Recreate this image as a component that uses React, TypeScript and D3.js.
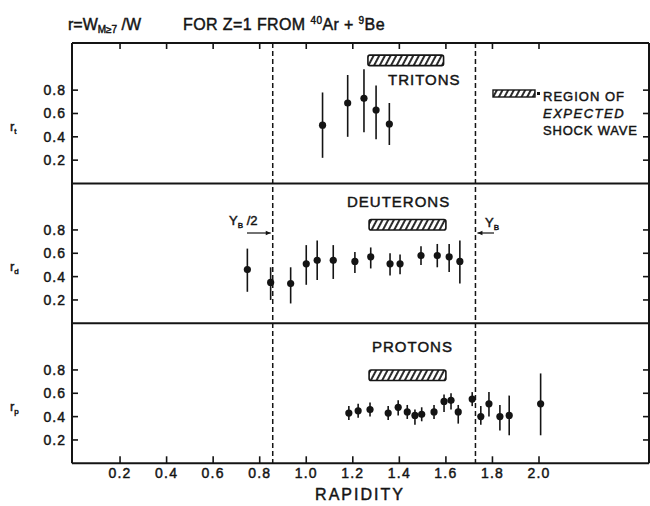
import React from "react";
import * as d3 from "d3";

// ---- data ----
const xTicks = [0.2, 0.4, 0.6, 0.8, 1.0, 1.2, 1.4, 1.6, 1.8, 2.0];
const xTickLabels = ["0.2", "0.4", "0.6", "0.8", "1.0", "1.2", "1.4", "1.6", "1.8", "2.0"];
const yTicks = [0.2, 0.4, 0.6, 0.8];
const yTickLabels = ["0.2", "0.4", "0.6", "0.8"];

const tritonRap = [1.07, 1.178, 1.248, 1.3, 1.357];
const tritonR = [0.5, 0.69, 0.73, 0.63, 0.51];
const tritonLo = [0.22, 0.4, 0.44, 0.38, 0.33];
const tritonHi = [0.78, 0.93, 0.98, 0.84, 0.69];

const deutRap = [0.747, 0.847, 0.933, 1.0, 1.047, 1.116, 1.209, 1.277, 1.36, 1.403, 1.493, 1.563, 1.614, 1.66];
const deutR = [0.46, 0.35, 0.34, 0.51, 0.54, 0.54, 0.53, 0.57, 0.51, 0.51, 0.58, 0.58, 0.57, 0.53];
const deutLo = [0.27, 0.2, 0.17, 0.33, 0.37, 0.38, 0.43, 0.47, 0.41, 0.42, 0.5, 0.48, 0.44, 0.34];
const deutHi = [0.64, 0.48, 0.48, 0.67, 0.71, 0.67, 0.61, 0.65, 0.6, 0.59, 0.66, 0.68, 0.68, 0.71];

const protRap = [1.183, 1.223, 1.274, 1.352, 1.395, 1.434, 1.467, 1.496, 1.549, 1.592, 1.622, 1.653, 1.713, 1.75, 1.785, 1.832, 1.872, 2.007];
const protR = [0.43, 0.45, 0.46, 0.43, 0.48, 0.44, 0.41, 0.42, 0.44, 0.53, 0.54, 0.44, 0.55, 0.4, 0.51, 0.4, 0.41, 0.51];
const protLo = [0.37, 0.39, 0.4, 0.37, 0.41, 0.38, 0.33, 0.36, 0.38, 0.44, 0.46, 0.34, 0.49, 0.33, 0.4, 0.28, 0.24, 0.24];
const protHi = [0.49, 0.51, 0.52, 0.49, 0.54, 0.5, 0.46, 0.48, 0.5, 0.59, 0.6, 0.5, 0.61, 0.49, 0.61, 0.5, 0.58, 0.77];

const panelNames = ["TRITONS", "DEUTERONS", "PROTONS"];
const panelSubs = ["t", "d", "p"];
const shockStart = [1.265, 1.27, 1.27];
const shockEnd = [1.59, 1.6, 1.6];
const shockTop = [1.1, 0.89, 0.8];
const shockBottom = [1.01, 0.8, 0.71];

const halfBeam = 0.856;
const beam = 1.727;

const INK = "#141414";
const FONT = "'Liberation Sans', Arial, sans-serif";

export default function App() {
  const W = 650, H = 506;
  const xs = d3.scaleLinear().domain([0, 2]).range([73.5, 539]);
  const frameL = 72, frameR = 649;
  const bounds = [43, 183.5, 323.3, 463.3];
  const unit = 116.7;
  const panels = [0, 1, 2].map((i) => ({
    top: bounds[i],
    bottom: bounds[i + 1],
    y: d3.scaleLinear().domain([0, 1]).range([bounds[i + 1], bounds[i + 1] - unit]),
  }));
  const series = [
    { rap: tritonRap, r: tritonR, lo: tritonLo, hi: tritonHi },
    { rap: deutRap, r: deutR, lo: deutLo, hi: deutHi },
    { rap: protRap, r: protR, lo: protLo, hi: protHi },
  ];
  const labelX = [388, 347, 372];
  const labelBase = [85, 207, 352];
  const txt = { fill: INK, stroke: INK, strokeWidth: 0.45 };

  return (
    <svg width={W} height={H} style={{ position: "absolute", left: 0, top: 0, background: "#fff" }} fontFamily={FONT}>
      <defs>
        <pattern id="hatch" patternUnits="userSpaceOnUse" width="5" height="10" patternTransform="rotate(28)">
          <line x1="1" y1="0" x2="1" y2="10" stroke={INK} strokeWidth="1.8" />
        </pattern>
      </defs>
      <rect width={W} height={H} fill="#fff" />

      {/* title */}
      <text x={68} y={30} fontSize={16} {...txt}>
        r=W<tspan fontSize={10} dy={3}>M≥7</tspan><tspan dy={-3}> /W</tspan>
      </text>
      <text x={183} y={30} fontSize={16} letterSpacing={0.4} {...txt}>
        FOR Z=1 FROM <tspan fontSize={10} dy={-6}>40</tspan><tspan dy={6}>Ar + </tspan><tspan fontSize={10} dy={-6}>9</tspan><tspan dy={6}>Be</tspan>
      </text>

      {/* frame */}
      <g stroke={INK} strokeWidth={2} fill="none">
        <line x1={frameL} x2={frameL} y1={bounds[0]} y2={bounds[3]} />
        <line x1={frameR} x2={frameR} y1={bounds[0]} y2={bounds[3]} />
        {bounds.map((b, i) => (
          <line key={i} x1={frameL} x2={frameR} y1={b} y2={b} />
        ))}
      </g>

      {/* top & bottom ticks */}
      <g stroke={INK} strokeWidth={1.6}>
        {xTicks.map((t, i) => (
          <g key={i}>
            <line x1={xs(t)} x2={xs(t)} y1={bounds[0]} y2={bounds[0] + 6} />
            <line x1={xs(t)} x2={xs(t)} y1={bounds[3]} y2={bounds[3] - 7} />
          </g>
        ))}
      </g>
      {xTicks.map((t, i) => (
        <text key={i} x={xs(t)} y={478} fontSize={14} textAnchor="middle" letterSpacing={1.2} {...txt}>
          {xTickLabels[i]}
        </text>
      ))}
      <text x={360} y={500} fontSize={16} textAnchor="middle" letterSpacing={2} {...txt}>
        RAPIDITY
      </text>

      {/* panels */}
      {panels.map((p, pi) => (
        <g key={pi}>
          {yTicks.map((t, i) => (
            <g key={i}>
              <line x1={frameL} x2={frameL + 6} y1={p.y(t)} y2={p.y(t)} stroke={INK} strokeWidth={1.6} />
              <line x1={frameR} x2={frameR - 6} y1={p.y(t)} y2={p.y(t)} stroke={INK} strokeWidth={1.6} />
              <text x={66} y={p.y(t) + 5} fontSize={14} textAnchor="end" letterSpacing={1} {...txt}>
                {yTickLabels[i]}
              </text>
            </g>
          ))}
          <text x={10} y={p.y(0.5) + 6} fontSize={13} {...txt}>
            r<tspan fontSize={8} dy={3}>{panelSubs[pi]}</tspan>
          </text>
          <text x={labelX[pi]} y={labelBase[pi]} fontSize={15} letterSpacing={1} {...txt}>
            {panelNames[pi]}
          </text>
          <rect
            x={xs(shockStart[pi])}
            y={p.y(shockTop[pi])}
            width={xs(shockEnd[pi]) - xs(shockStart[pi])}
            height={p.y(shockBottom[pi]) - p.y(shockTop[pi])}
            rx={2}
            fill="url(#hatch)"
            stroke={INK}
            strokeWidth={1.6}
          />
          {series[pi].rap.map((rv, i) => (
            <g key={i}>
              <line
                x1={xs(rv)}
                x2={xs(rv)}
                y1={p.y(series[pi].lo[i])}
                y2={p.y(series[pi].hi[i])}
                stroke={INK}
                strokeWidth={1.6}
              />
              <circle cx={xs(rv)} cy={p.y(series[pi].r[i])} r={3.6} fill={INK} />
            </g>
          ))}
        </g>
      ))}

      {/* dashed reference lines */}
      <g stroke={INK} strokeWidth={1.5} strokeDasharray="5,3">
        <line x1={xs(halfBeam)} x2={xs(halfBeam)} y1={bounds[0]} y2={bounds[3]} />
        <line x1={xs(beam)} x2={xs(beam)} y1={bounds[0]} y2={bounds[3]} />
      </g>

      {/* Y_B/2 and Y_B annotations */}
      <text x={229} y={225} fontSize={13} {...txt}>
        Y<tspan fontSize={8} dy={3}>B</tspan><tspan dy={-3}> /2</tspan>
      </text>
      <line x1={247} x2={xs(halfBeam) - 2} y1={233} y2={233} stroke={INK} strokeWidth={1.2} />
      <path d={`M${xs(halfBeam) - 2},233 l-5,-2.2 l0,4.4 z`} fill={INK} />
      <text x={485} y={227} fontSize={13} {...txt}>
        Y<tspan fontSize={8} dy={3}>B</tspan>
      </text>
      <line x1={494} x2={xs(beam) + 2} y1={233} y2={233} stroke={INK} strokeWidth={1.2} />
      <path d={`M${xs(beam) + 2},233 l5,-2.2 l0,4.4 z`} fill={INK} />

      {/* legend */}
      <rect x={493} y={90} width={42} height={7} fill="url(#hatch)" stroke={INK} strokeWidth={1.4} />
      <rect x={537} y={92} width={3} height={3} fill={INK} />
      <text x={543} y={101} fontSize={13} letterSpacing={1} {...txt}>REGION OF</text>
      <text x={543} y={118} fontSize={13} letterSpacing={1.5} fontStyle="italic" {...txt}>EXPECTED</text>
      <text x={543} y={135} fontSize={13} letterSpacing={0.8} {...txt}>SHOCK WAVE</text>
    </svg>
  );
}
